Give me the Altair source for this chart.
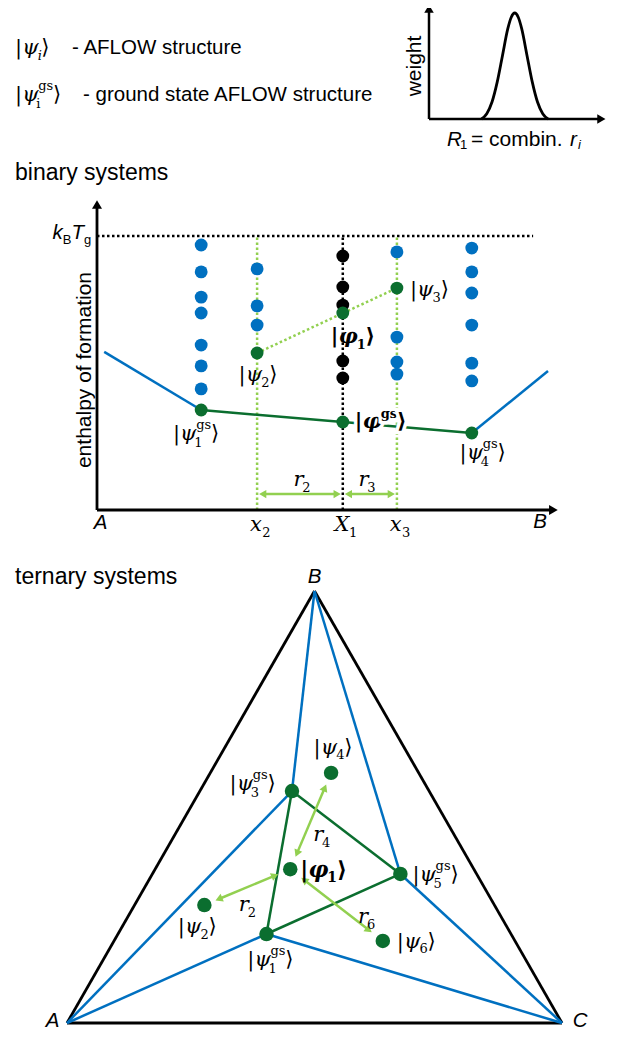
import math
import altair as alt
import pandas as pd

# ------------------------------------------------------------------ data
LEGEND_TEXTS = ["- AFLOW structure", "- ground state AFLOW structure"]

# schematic weight distribution over the combined distance R1
R_VALUES = [0.30, 0.33, 0.36, 0.39, 0.42, 0.45, 0.47, 0.49, 0.51, 0.53, 0.56, 0.59, 0.62, 0.65, 0.68]
WEIGHTS = [0.0, 0.05, 0.16, 0.35, 0.60, 0.85, 0.96, 1.0, 0.96, 0.85, 0.60, 0.35, 0.16, 0.05, 0.0]

# binary system: composition (A = 0, B = 1), enthalpy (kB*Tg = 0, axis = -1)
BLUE_X = [0.231] * 7 + [0.355] * 3 + [0.665] * 4 + [0.831] * 6
BLUE_E = [-0.033, -0.131, -0.223, -0.281, -0.398, -0.474, -0.558,
          -0.120, -0.255, -0.325,
          -0.058, -0.369, -0.460, -0.504,
          -0.044, -0.131, -0.208, -0.325, -0.464, -0.529]
BLACK_X = [0.545] * 5
BLACK_E = [-0.073, -0.186, -0.252, -0.456, -0.518]
GREEN_NAMES = ["psi1gs", "psi2", "phi1", "psi3", "phigs", "psi4gs"]
GREEN_X = [0.231, 0.355, 0.545, 0.665, 0.545, 0.831]
GREEN_E = [-0.635, -0.427, -0.281, -0.190, -0.679, -0.719]
HULL_END_X = [0.016, 1.0]
HULL_END_E = [-0.423, -0.493]
TICK_POS = [0.0, 0.355, 0.545, 0.665, 1.0]
KBTG_END = 0.967
ARROW_E = -0.942

# ternary system: barycentric fractions of A, B, C
TERN_NAMES = ["psi1gs", "psi2", "psi3gs", "psi4", "psi5gs", "psi6", "phi1"]
TERN_A = [0.494, 0.586, 0.277, 0.177, 0.154, 0.267, 0.371]
TERN_B = [0.206, 0.273, 0.537, 0.579, 0.345, 0.190, 0.356]
TERN_C = [0.300, 0.141, 0.186, 0.244, 0.501, 0.543, 0.273]
VERTEX_LABELS = ["A", "B", "C"]

# ------------------------------------------------------------------ style
BLUE = "#0070C0"
DKGREEN = "#0B6E2F"
LTGREEN = "#92D050"
MATH = "DejaVu Serif"
SANS = "Liberation Sans"

BX = alt.Scale(domain=[0, 1], range=[89, 540], nice=False, zero=False)
BY = alt.Scale(domain=[-1, 0], range=[502, 228], nice=False, zero=False)
WX = alt.Scale(domain=[0, 1], range=[421, 596], nice=False, zero=False)
WY = alt.Scale(domain=[0, 1], range=[111, 5], nice=False, zero=False)
H = math.sqrt(3) / 2
TXR = [59, 554]
TYR = [1015, 583]
TX = alt.Scale(domain=[0, 1], range=TXR, nice=False, zero=False)
TY = alt.Scale(domain=[0, H], range=TYR, nice=False, zero=False)

EM = {" ": 0.28, "=": 0.58, "c": 0.5, "o": 0.56, "m": 0.83, "b": 0.56, "i": 0.27,
      "n": 0.56, ".": 0.28, "R": 0.72, "r": 0.42, "k": 0.5, "B": 0.67, "T": 0.61,
      "g": 0.62, "s": 0.52, "x": 0.58, "X": 0.70, "|": 0.34, "ψ": 0.74, "φ": 0.78,
      "⟩": 0.40}


def tw(t, size, bold=False):
    return sum(EM.get(ch, 0.62) for ch in t) * size * (1.1 if bold else 1.0)


def xy(xs, ys, xf="x", yf="y"):
    return dict(x=alt.X(f"{xf}:Q", scale=xs, axis=None),
                y=alt.Y(f"{yf}:Q", scale=ys, axis=None))


def segs(df, xs, ys, color, width, dash=None, **kw):
    mk = dict(color=color, strokeWidth=width)
    if dash:
        mk["strokeDash"] = dash
    mk.update(kw)
    return alt.Chart(df).mark_rule(**mk).encode(**xy(xs, ys), x2="x2:Q", y2="y2:Q")


def dots(df, xs, ys, color, size):
    return alt.Chart(df).mark_circle(color=color, size=size, opacity=1).encode(**xy(xs, ys))


def at(x, y, xs, ys):
    return pd.DataFrame({"x": [x], "y": [y]}), xy(xs, ys)


def at_px(px, py):
    return pd.DataFrame({"x": [0]}), dict(x=alt.value(px), y=alt.value(py))


def compose(pos, parts, size=21, font=MATH, align="center", dx=0, dy=0, bold=False,
            halo=False):
    """parts: list of (text, role, style); role in main/sub/sup/subsup (text=(sub, sup))."""
    df, enc = pos
    small = round(size * 0.62)
    items = []
    x = 0.0
    for text, role, style in parts:
        if role == "main":
            items.append((text, x, 0, size, style))
            x += tw(text, size, bold)
        elif role == "sub":
            items.append((text, x, 0.36 * size, small, style))
            x += tw(text, small, bold)
        elif role == "sup":
            items.append((text, x, -0.38 * size, small, style))
            x += tw(text, small, bold)
        else:
            sb, sp = text
            items.append((sb, x - 1.5, 0.44 * size, small, "normal"))
            items.append((sp, x + 0.5, -0.44 * size, small, "normal"))
            x += max(tw(sb, small, bold) - 1.5, tw(sp, small, bold) + 0.5)
    start = {"left": 0, "center": -x / 2, "right": -x}[align]
    out = []
    for text, ix, iy, fs, st in items:
        base = dict(text=text, font=font, fontSize=fs, fontStyle=st,
                    fontWeight=("bold" if bold else "normal"), align="left",
                    baseline="middle", dx=dx + start + ix, dy=dy + iy)
        if halo:
            out.append(alt.Chart(df).mark_text(color="white", stroke="white",
                                               strokeWidth=7, **base).encode(**enc))
        out.append(alt.Chart(df).mark_text(color="black", **base).encode(**enc))
    return out


def ket(sym, sub=None, sup=None, sub_style="normal"):
    parts = [("|", "main", "normal"), (sym, "main", "italic")]
    if sub and sup:
        parts.append(((sub, sup), "subsup", "normal"))
    elif sub:
        parts.append((sub, "sub", sub_style))
    elif sup:
        parts.append((sup, "sup", "normal"))
    parts.append(("⟩", "main", "normal"))
    return parts


def free_text(px, py, t, font=SANS, size=21, style="normal", align="left", angle=0):
    df = pd.DataFrame({"t": [t]})
    return alt.Chart(df).mark_text(font=font, fontSize=size, fontStyle=style, align=align,
                                   baseline="middle", angle=angle, color="black").encode(
        x=alt.value(px), y=alt.value(py), text="t:N")


def head(df, xs, ys, color, size, shape, **kw):
    return alt.Chart(df).mark_point(shape=shape, filled=True, color=color, size=size,
                                    opacity=1, strokeWidth=0, **kw).encode(**xy(xs, ys))


layers = []

# ------------------------------------------------------------------ legend
layers += compose(at_px(7, 40), ket("ψ", sub="i", sub_style="italic"), align="left")
layers.append(free_text(64, 40, LEGEND_TEXTS[0], size=20.5))
layers += compose(at_px(7, 87), ket("ψ", sub="i", sup="gs"), align="left")
layers.append(free_text(75, 87, LEGEND_TEXTS[1], size=20.5))

# ------------------------------------------------------------------ weight panel
wa = pd.DataFrame({"x": [0, 0], "y": [0, 0], "x2": [0, 0.985], "y2": [1.04, 0]})
layers.append(segs(wa, WX, WY, "black", 2.5))
layers.append(head(pd.DataFrame({"x": [0], "y": [1.04]}), WX, WY, "black", 90, "triangle-up"))
layers.append(head(pd.DataFrame({"x": [0.985], "y": [0]}), WX, WY, "black", 90, "triangle-right"))
layers.append(alt.Chart(pd.DataFrame({"x": R_VALUES, "y": WEIGHTS}))
              .mark_line(color="black", strokeWidth=2.8, interpolate="monotone")
              .encode(**xy(WX, WY)))
layers.append(free_text(407, 58, "weight", size=21, align="center", angle=270))
layers.append(free_text(439, 132, "R", size=20.5, style="italic"))
layers.append(free_text(452, 137, "1", size=13))
layers.append(free_text(463, 132, "= combin.", size=21))
layers.append(free_text(562, 132, "r", size=20.5, style="italic"))
layers.append(free_text(570, 137, "i", size=13, style="italic"))

# ------------------------------------------------------------------ binary panel
layers.append(free_text(7, 165, "binary systems", size=23))

kb = pd.DataFrame({"x": [0], "y": [0], "x2": [KBTG_END], "y2": [0]})
layers.append(segs(kb, BX, BY, "black", 2.5, dash=[2.5, 2.5]))
vl = pd.DataFrame({"x": [GREEN_X[1], GREEN_X[3]], "y": [-1, -1],
                   "x2": [GREEN_X[1], GREEN_X[3]], "y2": [0, 0]})
layers.append(segs(vl, BX, BY, LTGREEN, 2.5, dash=[2.5, 2.5]))
vb = pd.DataFrame({"x": [GREEN_X[2]], "y": [-1], "x2": [GREEN_X[2]], "y2": [0]})
layers.append(segs(vb, BX, BY, "black", 2.5, dash=[2.5, 2.5]))
dg = pd.DataFrame({"x": [GREEN_X[1]], "y": [GREEN_E[1]], "x2": [GREEN_X[3]], "y2": [GREEN_E[3]]})
layers.append(segs(dg, BX, BY, LTGREEN, 2.5, dash=[2.5, 2.5]))

hb = pd.DataFrame({"x": [HULL_END_X[0], GREEN_X[5]], "y": [HULL_END_E[0], GREEN_E[5]],
                   "x2": [GREEN_X[0], HULL_END_X[1]], "y2": [GREEN_E[0], HULL_END_E[1]]})
layers.append(segs(hb, BX, BY, BLUE, 2.5))
hg = pd.DataFrame({"x": [GREEN_X[0], GREEN_X[4]], "y": [GREEN_E[0], GREEN_E[4]],
                   "x2": [GREEN_X[4], GREEN_X[5]], "y2": [GREEN_E[4], GREEN_E[5]]})
layers.append(segs(hg, BX, BY, DKGREEN, 2.5))

ax = pd.DataFrame({"x": [0, 0], "y": [-1, -1], "x2": [0, 1.012], "y2": [0.115, -1]})
layers.append(segs(ax, BX, BY, "black", 2.8))
layers.append(head(pd.DataFrame({"x": [0], "y": [0.115]}), BX, BY, "black", 100, "triangle-up"))
layers.append(head(pd.DataFrame({"x": [1.012], "y": [-1]}), BX, BY, "black", 100, "triangle-right"))

HH = 3.6
arr = pd.DataFrame({"x": [GREEN_X[1], GREEN_X[2]], "y": [ARROW_E, ARROW_E],
                    "x2": [GREEN_X[2], GREEN_X[3]], "y2": [ARROW_E, ARROW_E]})
layers.append(alt.Chart(arr).mark_rule(color=LTGREEN, strokeWidth=2.5, xOffset=2 * HH + 1,
                                       x2Offset=-2 * HH - 1)
              .encode(**xy(BX, BY), x2="x2:Q", y2="y2:Q"))
layers.append(head(pd.DataFrame({"x": [GREEN_X[1], GREEN_X[2]], "y": [ARROW_E] * 2}),
                   BX, BY, LTGREEN, 70, "triangle-left", xOffset=HH + 2))
layers.append(head(pd.DataFrame({"x": [GREEN_X[2], GREEN_X[3]], "y": [ARROW_E] * 2}),
                   BX, BY, LTGREEN, 70, "triangle-right", xOffset=-HH - 2))
layers += compose(at((GREEN_X[1] + GREEN_X[2]) / 2, ARROW_E, BX, BY),
                  [("r", "main", "italic"), ("2", "sub", "normal")], dx=2, dy=-14)
layers += compose(at((GREEN_X[2] + GREEN_X[3]) / 2, ARROW_E, BX, BY),
                  [("r", "main", "italic"), ("3", "sub", "normal")], dx=-3, dy=-14)

layers.append(dots(pd.DataFrame({"x": BLUE_X, "y": BLUE_E}), BX, BY, BLUE, 165))
layers.append(dots(pd.DataFrame({"x": BLACK_X, "y": BLACK_E}), BX, BY, "black", 165))
layers.append(dots(pd.DataFrame({"x": GREEN_X, "y": GREEN_E}), BX, BY, DKGREEN, 165))

bin_lab = {
    "psi1gs": (ket("ψ", "1", "gs"), dict(dx=-5, dy=24)),
    "psi2": (ket("ψ", "2"), dict(dx=1, dy=22)),
    "phi1": (ket("φ", "1"), dict(dx=10, dy=24, bold=True)),
    "psi3": (ket("ψ", "3"), dict(dx=13, dy=2, align="left")),
    "phigs": (ket("φ", sup="gs"), dict(dx=12, dy=0, align="left", bold=True, halo=True)),
    "psi4gs": (ket("ψ", "4", "gs"), dict(dx=11, dy=20)),
}
for i, n in enumerate(GREEN_NAMES):
    parts, opt = bin_lab[n]
    layers += compose(at(GREEN_X[i], GREEN_E[i], BX, BY), parts, **opt)

# axis letters
layers += compose(at(TICK_POS[0], -1, BX, BY), [("A", "main", "italic")], font=SANS,
                  size=20.5, dx=3, dy=13)
layers += compose(at(TICK_POS[4], -1, BX, BY), [("B", "main", "italic")], font=SANS,
                  size=20.5, dx=-8, dy=12)
for p, (s, d) in zip(TICK_POS[1:4], [("x", "2"), ("X", "1"), ("x", "3")]):
    layers += compose(at(p, -1, BX, BY), [(s, "main", "italic"), (d, "sub", "normal")],
                      dx=3, dy=15)

# kB Tg label
layers += compose(at(0, 0, BX, BY), [("k", "main", "italic"), ("B", "sub", "normal"),
                                     ("T", "main", "italic"), ("g", "sub", "normal")],
                  font=SANS, size=20.5, align="right", dx=-5, dy=-3)
layers.append(free_text(77, 362, "enthalpy of formation", size=21, align="center", angle=270))

# ------------------------------------------------------------------ ternary panel
layers.append(free_text(7, 569, "ternary systems", size=23))


def cart(a, b, c):
    return c + b / 2, b * H


def to_px(X, Y):
    return TXR[0] + X * (TXR[1] - TXR[0]), TYR[0] + Y / H * (TYR[1] - TYR[0])


def from_px(px, py):
    return (px - TXR[0]) / (TXR[1] - TXR[0]), (py - TYR[0]) / (TYR[1] - TYR[0]) * H


VX = [cart(1, 0, 0), cart(0, 1, 0), cart(0, 0, 1)]
P = {n: cart(a, b, c) for n, a, b, c in zip(TERN_NAMES, TERN_A, TERN_B, TERN_C)}


def edges(pairs):
    return pd.DataFrame([{"x": p[0], "y": p[1], "x2": q[0], "y2": q[1]} for p, q in pairs])


layers.append(segs(edges([(VX[0], VX[1]), (VX[1], VX[2]), (VX[2], VX[0])]),
                   TX, TY, "black", 2.8))
g1, g3, g5 = P["psi1gs"], P["psi3gs"], P["psi5gs"]
layers.append(segs(edges([(VX[0], g3), (VX[1], g3), (VX[1], g5), (VX[2], g5),
                          (VX[0], g1), (VX[2], g1)]), TX, TY, BLUE, 2.5))
layers.append(segs(edges([(g3, g1), (g3, g5), (g1, g5)]), TX, TY, DKGREEN, 2.5))

phi = P["phi1"]
rule_rows, head_rows = [], []
for target, t0, t1 in [("psi4", 0.13, 0.88), ("psi2", 0.14, 0.87), ("psi6", 0.12, 0.88)]:
    q = P[target]
    p0 = to_px(*phi)
    p1 = to_px(*q)
    ddx, ddy = p1[0] - p0[0], p1[1] - p0[1]
    L = math.hypot(ddx, ddy)
    ux, uy = ddx / L, ddy / L
    tipA = (p0[0] + ddx * t0, p0[1] + ddy * t0)
    tipB = (p0[0] + ddx * t1, p0[1] + ddy * t1)
    cA = (tipA[0] + ux * HH, tipA[1] + uy * HH)
    cB = (tipB[0] - ux * HH, tipB[1] - uy * HH)
    dA, dB = from_px(*cA), from_px(*cB)
    rule_rows.append({"x": dA[0], "y": dA[1], "x2": dB[0], "y2": dB[1]})
    angB = math.degrees(math.atan2(ux, -uy)) % 360
    angA = (angB + 180) % 360
    head_rows.append({"x": dA[0], "y": dA[1], "ang": angA})
    head_rows.append({"x": dB[0], "y": dB[1], "ang": angB})
layers.append(segs(pd.DataFrame(rule_rows), TX, TY, LTGREEN, 2.5))
layers.append(alt.Chart(pd.DataFrame(head_rows)).mark_point(
    shape="triangle-up", filled=True, color=LTGREEN, size=70, opacity=1, strokeWidth=0)
    .encode(**xy(TX, TY), angle=alt.Angle("ang:Q", scale=None)))

tern_pts = pd.DataFrame({"x": [P[n][0] for n in TERN_NAMES], "y": [P[n][1] for n in TERN_NAMES]})
layers.append(dots(tern_pts, TX, TY, DKGREEN, 210))

tern_lab = {
    "psi1gs": (ket("ψ", "1", "gs"), dict(dx=4, dy=26)),
    "psi2": (ket("ψ", "2"), dict(dx=-7, dy=22)),
    "psi3gs": (ket("ψ", "3", "gs"), dict(dx=-16, dy=-7, align="right")),
    "psi4": (ket("ψ", "4"), dict(dx=2, dy=-25)),
    "psi5gs": (ket("ψ", "5", "gs"), dict(dx=12, dy=1, align="left")),
    "psi6": (ket("ψ", "6"), dict(dx=14, dy=1, align="left")),
    "phi1": (ket("φ", "1"), dict(dx=10, dy=1, align="left", bold=True, size=22)),
}
for n in TERN_NAMES:
    parts, opt = tern_lab[n]
    layers += compose(at(P[n][0], P[n][1], TX, TY), parts, **opt)

for target, digit, dx, dy in [("psi4", "4", 11, 14), ("psi2", "2", 0, 18), ("psi6", "6", 30, 12)]:
    q = P[target]
    layers += compose(at((phi[0] + q[0]) / 2, (phi[1] + q[1]) / 2, TX, TY),
                      [("r", "main", "italic"), (digit, "sub", "normal")], dx=dx, dy=dy)

for (X, Y), t, dx, dy in zip(VX, VERTEX_LABELS, [-15, 0, 17], [-2, -14, -2]):
    layers += compose(at(X, Y, TX, TY), [(t, "main", "italic")], font=SANS, size=20.5,
                      dx=dx, dy=dy)

chart = alt.layer(*layers).resolve_scale(x="independent", y="independent").properties(
    width=602, height=1022, padding=0, autosize=alt.AutoSizeParams(type="none")
).configure_view(stroke=None)

chart.save("out.html", embed_options={"renderer": "svg", "actions": False})
